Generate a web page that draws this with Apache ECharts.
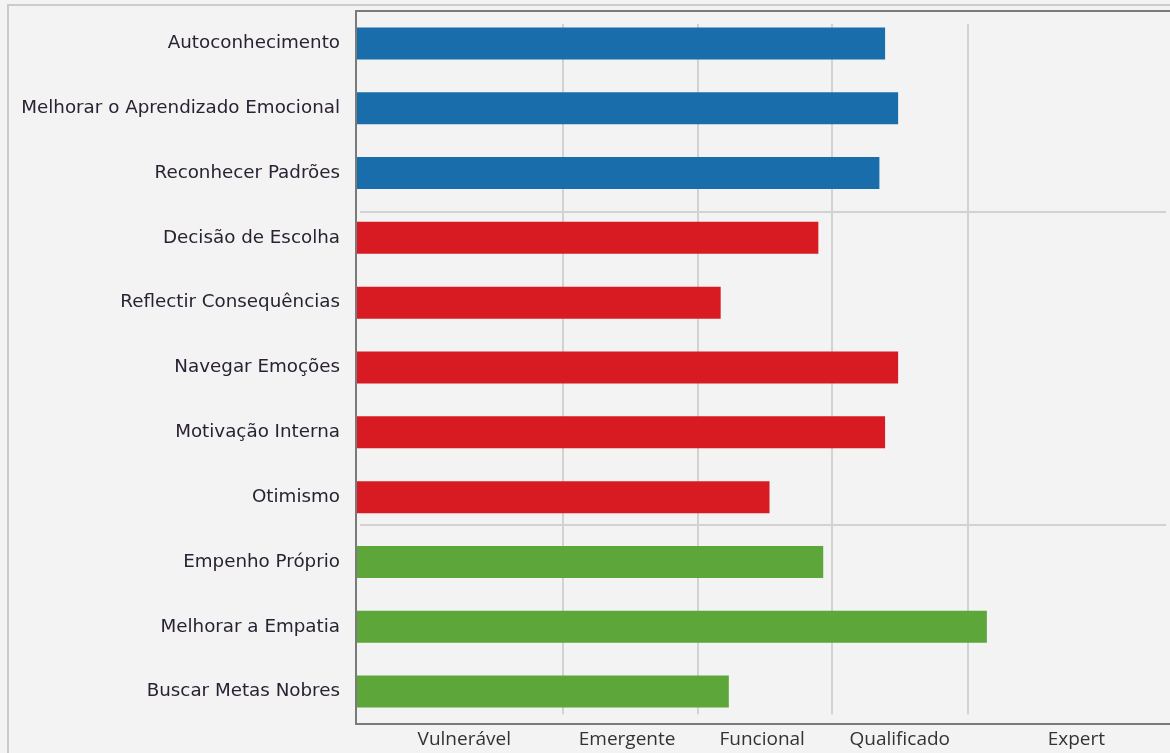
<!DOCTYPE html>
<html>
<head>
<meta charset="utf-8">
<script src="https://cdn.jsdelivr.net/npm/echarts@6/dist/echarts.min.js"></script>
<style>
  html, body { margin: 0; padding: 0; background: #f3f3f3; }
  #wrap { position: relative; width: 1170px; height: 753px; background: #f3f3f3; overflow: hidden; }
  #frame { position: absolute; left: 7px; top: 4px; right: -4px; bottom: -4px; border-left: 2px solid #cbcbcb; border-top: 2px solid #cbcbcb; }
  #chart { position: absolute; left: 0; top: 0; width: 1170px; height: 753px; }
</style>
</head>
<body>
<div id="wrap"><div id="frame"></div><div id="chart"></div></div>
<script>
// ---- data ----
const categories = [
  'Autoconhecimento',
  'Melhorar o Aprendizado Emocional',
  'Reconhecer Padrões',
  'Decisão de Escolha',
  'Reflectir Consequências',
  'Navegar Emoções',
  'Motivação Interna',
  'Otimismo',
  'Empenho Próprio',
  'Melhorar a Empatia',
  'Buscar Metas Nobres'
];
const values = [65.0, 66.6, 64.3, 56.8, 44.8, 66.6, 65.0, 50.8, 57.4, 77.5, 45.8];
const groups = [0, 0, 0, 1, 1, 1, 1, 1, 2, 2, 2];
const levelNames = ['Vulnerável', 'Emergente', 'Funcional', 'Qualificado', 'Expert'];
const levelLabelAt = [13.3, 33.3, 49.9, 66.8, 88.5];
const levelBounds = [25.4, 42.0, 58.5, 75.1];

// ---- styling / layout ----
const groupColors = ['#1a6dab', '#d81a22', '#5da63a'];
const sepAt = [3.1, 7.92];
const frameLine = { show: true, onZero: false, lineStyle: { color: '#7a7a7a', width: 2 } };

const labelMap = {};
levelLabelAt.forEach((v, i) => { labelMap[v.toFixed(2)] = levelNames[i]; });

const markData = [];
levelBounds.forEach(v => {
  markData.push([{ coord: [v, 0.2] }, { coord: [v, 10.85] }]);
});
sepAt.forEach(y => {
  markData.push([{ coord: [0.5, y] }, { coord: [99.5, y] }]);
});

const chart = echarts.init(document.getElementById('chart'), null, { renderer: 'canvas' });
chart.setOption({
  animation: false,
  backgroundColor: 'transparent',
  grid: { left: 356, top: 11, right: 0, bottom: 29, show: false },
  xAxis: [
    {
      type: 'value', min: 0, max: 100, position: 'bottom', z: 5,
      axisLine: frameLine, axisTick: { show: false }, splitLine: { show: false },
      axisLabel: {
        customValues: levelLabelAt,
        formatter: v => labelMap[Number(v).toFixed(2)] || '',
        fontFamily: 'Open Sans', fontSize: 19, color: '#333333', margin: 6
      }
    },
    {
      type: 'value', min: 0, max: 100, position: 'top', z: 5,
      axisLine: frameLine, axisTick: { show: false }, splitLine: { show: false },
      axisLabel: { show: false }
    }
  ],
  yAxis: [
    {
      type: 'category', inverse: true, data: categories, z: 5,
      axisLine: frameLine, axisTick: { show: false }, splitLine: { show: false },
      axisLabel: { fontFamily: 'DejaVu Sans', fontSize: 18.3, color: '#2a2233', margin: 16 }
    },
    { type: 'value', min: 0, max: 11, inverse: true, show: false }
  ],
  series: [
    {
      type: 'bar', xAxisIndex: 0, yAxisIndex: 0, barWidth: 32, z: 3,
      data: values.map((v, i) => ({ value: v, itemStyle: { color: groupColors[groups[i]] } }))
    },
    {
      type: 'line', xAxisIndex: 0, yAxisIndex: 1, data: [], silent: true, z: 1,
      markLine: {
        silent: true, symbol: 'none', animation: false, z: 1,
        label: { show: false },
        lineStyle: { color: '#d2d2d2', width: 2, type: 'solid' },
        data: markData
      }
    }
  ]
});
</script>
</body>
</html>
